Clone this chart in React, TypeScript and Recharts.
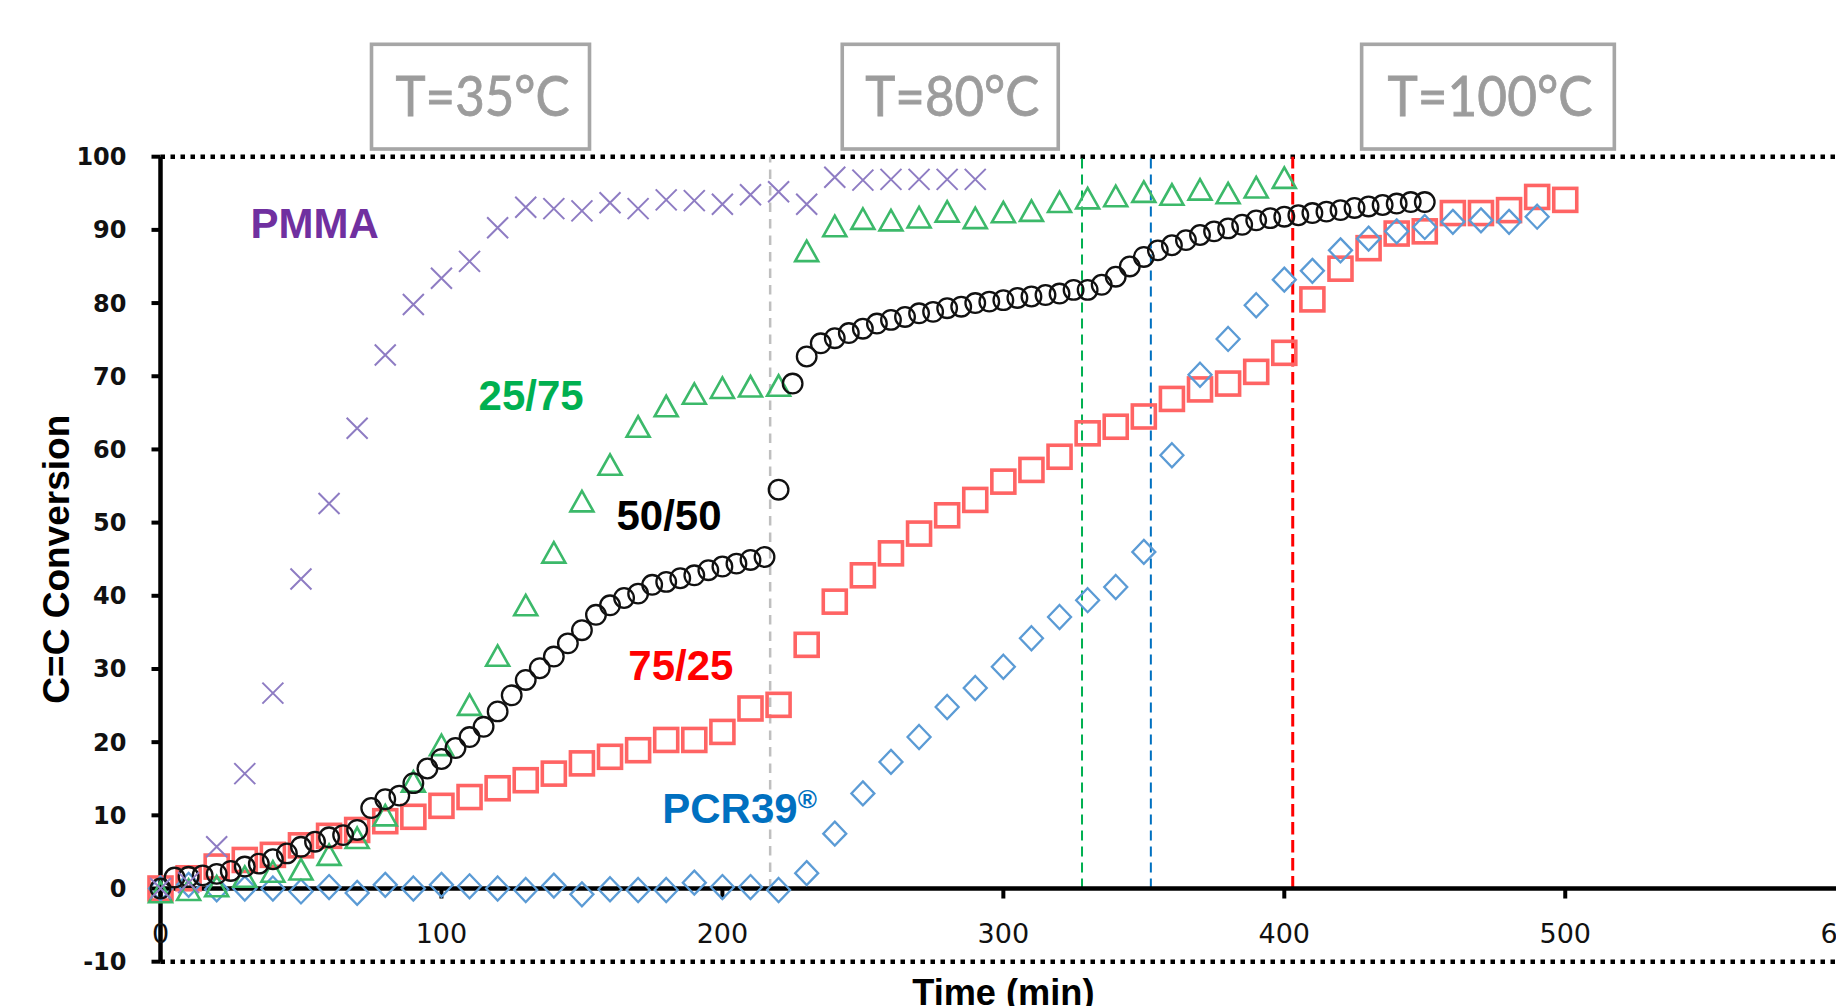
import React from 'react';
import { ScatterChart, Scatter, XAxis, YAxis, ReferenceLine, ReferenceDot } from 'recharts';

// ---------------- Data ----------------
const timePMMA = [0, 10, 20, 30, 40, 50, 60, 70, 80, 90, 100, 110, 120, 130, 140, 150, 160, 170, 180, 190, 200, 210, 220, 230, 240, 250, 260, 270, 280, 290];
const convPMMA = [0, 0.8, 5.7, 15.7, 26.7, 42.3, 52.6, 62.9, 72.9, 79.8, 83.4, 85.7, 90.3, 93.1, 92.9, 92.6, 93.7, 92.9, 94.1, 94.0, 93.5, 94.8, 95.2, 93.5, 97.2, 96.8, 96.9, 96.9, 96.9, 96.9];

const time2575 = [0, 10, 20, 30, 40, 50, 60, 70, 80, 90, 100, 110, 120, 130, 140, 150, 160, 170, 180, 190, 200, 210, 220, 230, 240, 250, 260, 270, 280, 290, 300, 310, 320, 330, 340, 350, 360, 370, 380, 390, 400];
const conv2575 = [-0.5, -0.2, 0.3, 1.6, 2.3, 2.6, 4.6, 6.9, 10.0, 14.6, 19.6, 25.1, 31.8, 38.7, 45.9, 52.9, 57.9, 63.1, 65.9, 67.6, 68.4, 68.6, 68.7, 87.1, 90.5, 91.5, 91.3, 91.7, 92.5, 91.6, 92.4, 92.6, 93.8, 94.3, 94.6, 95.2, 94.8, 95.5, 95.0, 95.8, 97.1];

const time5050 = [0, 5, 10, 15, 20, 25, 30, 35, 40, 45, 50, 55, 60, 65, 70, 75, 80, 85, 90, 95, 100, 105, 110, 115, 120, 125, 130, 135, 140, 145, 150, 155, 160, 165, 170, 175, 180, 185, 190, 195, 200, 205, 210, 215, 220, 225, 230, 235, 240, 245, 250, 255, 260, 265, 270, 275, 280, 285, 290, 295, 300, 305, 310, 315, 320, 325, 330, 335, 340, 345, 350, 355, 360, 365, 370, 375, 380, 385, 390, 395, 400, 405, 410, 415, 420, 425, 430, 435, 440, 445, 450];
const conv5050 = [0, 1.5, 1.6, 1.8, 2.0, 2.4, 3.0, 3.4, 4.0, 4.8, 5.7, 6.4, 7.0, 7.3, 8.0, 11.0, 12.2, 12.7, 14.4, 16.4, 17.7, 19.2, 20.7, 22.1, 24.2, 26.4, 28.5, 30.1, 31.7, 33.5, 35.3, 37.4, 38.7, 39.7, 40.3, 41.5, 41.9, 42.4, 42.8, 43.5, 44.0, 44.4, 44.9, 45.3, 54.5, 69.0, 72.7, 74.5, 75.2, 75.9, 76.5, 77.2, 77.7, 78.1, 78.6, 78.8, 79.3, 79.5, 80.0, 80.2, 80.4, 80.7, 80.9, 81.1, 81.3, 81.8, 81.8, 82.5, 83.6, 85.0, 86.3, 87.2, 87.9, 88.6, 89.3, 89.8, 90.2, 90.7, 91.3, 91.6, 91.8, 92.0, 92.3, 92.5, 92.7, 93.0, 93.2, 93.4, 93.6, 93.8, 93.8];

const time7525 = [0, 10, 20, 30, 40, 50, 60, 70, 80, 90, 100, 110, 120, 130, 140, 150, 160, 170, 180, 190, 200, 210, 220, 230, 240, 250, 260, 270, 280, 290, 300, 310, 320, 330, 340, 350, 360, 370, 380, 390, 400, 410, 420, 430, 440, 450, 460, 470, 480, 490, 500];
const conv7525 = [0, 1.4, 3.0, 3.9, 4.6, 5.9, 7.2, 8.0, 9.2, 9.8, 11.3, 12.5, 13.7, 14.8, 15.7, 17.1, 18.0, 18.9, 20.3, 20.3, 21.4, 24.6, 25.1, 33.3, 39.2, 42.8, 45.8, 48.5, 51.0, 53.1, 55.6, 57.2, 59.0, 62.2, 63.1, 64.5, 66.9, 68.2, 69.0, 70.6, 73.2, 80.5, 84.7, 87.5, 89.5, 89.8, 92.3, 92.3, 92.7, 94.5, 94.1];

const timePCR = [0, 10, 20, 30, 40, 50, 60, 70, 80, 90, 100, 110, 120, 130, 140, 150, 160, 170, 180, 190, 200, 210, 220, 230, 240, 250, 260, 270, 280, 290, 300, 310, 320, 330, 340, 350, 360, 370, 380, 390, 400, 410, 420, 430, 440, 450, 460, 470, 480, 490];
const convPCR = [0, 0.5, -0.1, 0, 0, -0.4, 0.2, -0.6, 0.5, 0, 0.5, 0.3, 0, -0.2, 0.4, -0.8, -0.1, -0.2, -0.2, 0.8, 0.2, 0.2, -0.2, 2.1, 7.5, 13.0, 17.3, 20.7, 24.8, 27.4, 30.3, 34.2, 37.1, 39.4, 41.2, 46.0, 59.2, 70.2, 75.1, 79.7, 83.2, 84.4, 87.2, 88.8, 89.8, 90.4, 91.1, 91.3, 91.1, 91.8];

const xTicks = [0, 100, 200, 300, 400, 500, 600];
const yTicks = [-10, 0, 10, 20, 30, 40, 50, 60, 70, 80, 90, 100];

// temperature-change times (dashed lines)
const transitionTimes = [217, 328, 352.5, 403];

// temperature boxes: label + centre time
const tempLabels = ['T=35°C', 'T=80°C', 'T=100°C'];
const tempTimes = [113.9, 281.1, 472.5];

// series labels: text, left time, baseline conversion
const seriesNames = ['PMMA', '25/75', '50/50', '75/25', 'PCR39'];
const seriesNameTimes = [32.0, 113.2, 162.3, 166.5, 178.6];
const seriesNameConv = [88.85, 65.4, 49.0, 28.5, 8.9];

// ---------------- Styles ----------------
const dashStyles = [
  { stroke: '#BFBFBF', dash: '9.5 7', width: 2.5 },
  { stroke: '#00B050', dash: '10 6', width: 2 },
  { stroke: '#0070C0', dash: '10 6', width: 2 },
  { stroke: '#FF0000', dash: '12.5 5.5', width: 3 },
];
const nameColors = ['#7030A0', '#00B050', '#000000', '#FF0000', '#0070C0'];
const boxWidths = [218, 216, 252.7];
const boxTextWidths = [174, 174, 205];

const zip = (xs: number[], ys: number[]) => xs.map((x, i) => ({ x, y: ys[i] }));

const xMark = (p: any) => {
  const { cx, cy } = p;
  const a = 10.5;
  return (
    <path
      d={`M${cx - a},${cy - a}L${cx + a},${cy + a}M${cx - a},${cy + a}L${cx + a},${cy - a}`}
      stroke="#8E7CC3"
      strokeWidth={2}
      fill="none"
    />
  );
};
const circleMark = (p: any) => (
  <circle cx={p.cx} cy={p.cy} r={9.8} fill="none" stroke="#111" strokeWidth={2.3} />
);
const triMark = (p: any) => {
  const { cx, cy } = p;
  return (
    <path
      d={`M${cx},${cy - 10.5}L${cx + 11.5},${cy + 10}L${cx - 11.5},${cy + 10}Z`}
      fill="none"
      stroke="#3CB96A"
      strokeWidth={2.6}
    />
  );
};
const squareMark = (p: any) => (
  <rect x={p.cx - 11.5} y={p.cy - 11.5} width={23} height={23} fill="none" stroke="#FF6464" strokeWidth={3.6} />
);
const diamondMark = (p: any) => {
  const { cx, cy } = p;
  return (
    <path
      d={`M${cx},${cy - 12}L${cx + 11.5},${cy}L${cx},${cy + 12}L${cx - 11.5},${cy}Z`}
      fill="none"
      stroke="#5B9BD5"
      strokeWidth={2.3}
    />
  );
};

export default function App() {
  return (
    <div style={{ width: 1836, height: 998, overflow: 'hidden' }}>
      <style>{'html,body{overflow:hidden}'}</style>
      <ScatterChart
        width={1900}
        height={1000}
        margin={{ top: 148.7, right: 61.8, bottom: 46.3, left: 0 }}
      >
        <XAxis type="number" dataKey="x" domain={[0, 600]} ticks={xTicks} hide />
        <YAxis
          type="number"
          dataKey="y"
          domain={[-10, 100]}
          ticks={yTicks}
          interval={0}
          width={152.5}
          tickSize={9}
          tickMargin={25}
          axisLine={{ stroke: '#000', strokeWidth: 4.5 }}
          tickLine={{ stroke: '#000', strokeWidth: 4 }}
          tick={{ fontFamily: 'DejaVu Sans', fontWeight: 'bold', fontSize: 24, fill: '#111' }}
        />

        {/* dotted top and bottom borders */}
        <ReferenceLine y={100} stroke="#000" strokeWidth={4.5} strokeDasharray="4.5 5.5" ifOverflow="visible" />
        <ReferenceLine y={-10} stroke="#000" strokeWidth={4.5} strokeDasharray="4.5 5.5" ifOverflow="visible" />

        {/* dashed temperature-change lines */}
        {transitionTimes.map((t, i) => (
          <ReferenceLine
            key={`tl${i}`}
            segment={[{ x: t, y: 0 }, { x: t, y: 100 }]}
            stroke={dashStyles[i].stroke}
            strokeWidth={dashStyles[i].width}
            strokeDasharray={dashStyles[i].dash}
            ifOverflow="visible"
          />
        ))}

        {/* x axis line at y = 0 */}
        <ReferenceLine y={0} stroke="#000" strokeWidth={4.5} ifOverflow="visible" />

        {/* x ticks and labels */}
        {xTicks.map((t) => (
          <ReferenceDot
            key={`xt${t}`}
            x={t}
            y={0}
            ifOverflow="visible"
            shape={(p: any) => (
              <g>
                <line x1={p.cx} y1={p.cy} x2={p.cx} y2={p.cy + 10} stroke="#000" strokeWidth={4} />
                <text x={p.cx} y={p.cy + 54.3} textAnchor="middle" fontFamily="DejaVu Sans" fontSize={27} fill="#111">
                  {t}
                </text>
              </g>
            )}
          />
        ))}

        {/* axis titles */}
        <ReferenceDot
          x={300}
          y={-10}
          ifOverflow="visible"
          shape={(p: any) => (
            <text x={p.cx} y={p.cy + 43} textAnchor="middle" fontFamily="Liberation Sans" fontWeight="bold" fontSize={36.2} fill="#000">
              Time (min)
            </text>
          )}
        />
        <ReferenceDot
          x={0}
          y={45}
          ifOverflow="visible"
          shape={(p: any) => (
            <text
              transform={`translate(${p.cx - 104.5},${p.cy}) rotate(-90)`}
              textAnchor="middle"
              dy="0.358em"
              fontFamily="Liberation Sans"
              fontWeight="bold"
              fontSize={37}
              fill="#000"
            >
              C=C Conversion
            </text>
          )}
        />

        {/* temperature boxes */}
        {tempLabels.map((lab, i) => (
          <ReferenceDot
            key={`tb${i}`}
            x={tempTimes[i]}
            y={100}
            ifOverflow="visible"
            shape={(p: any) => (
              <g>
                <rect
                  x={p.cx - boxWidths[i] / 2}
                  y={p.cy - 112.4}
                  width={boxWidths[i]}
                  height={104.7}
                  fill="#fff"
                  stroke="#A6A6A6"
                  strokeWidth={3.6}
                />
                <text
                  x={p.cx + 2}
                  y={p.cy - 40.5}
                  textAnchor="middle"
                  fontFamily="Lato"
                  fontSize={57}
                  fill="#9C9C9C"
                  stroke="#9C9C9C"
                  strokeWidth={0.8}
                  textLength={boxTextWidths[i]}
                  lengthAdjust="spacingAndGlyphs"
                >
                  {lab}
                </text>
              </g>
            )}
          />
        ))}

        {/* series */}
        <Scatter data={zip(time7525, conv7525)} shape={squareMark} isAnimationActive={false} />
        <Scatter data={zip(timePCR, convPCR)} shape={diamondMark} isAnimationActive={false} />
        <Scatter data={zip(time2575, conv2575)} shape={triMark} isAnimationActive={false} />
        <Scatter data={zip(time5050, conv5050)} shape={circleMark} isAnimationActive={false} />
        <Scatter data={zip(timePMMA, convPMMA)} shape={xMark} isAnimationActive={false} />

        {/* series name labels */}
        {seriesNames.map((name, i) => (
          <ReferenceDot
            key={`sn${i}`}
            x={seriesNameTimes[i]}
            y={seriesNameConv[i]}
            ifOverflow="visible"
            shape={(p: any) => (
              <text x={p.cx} y={p.cy} fontFamily="Liberation Sans" fontWeight="bold" fontSize={42} fill={nameColors[i]}>
                {name}
                {name === 'PCR39' ? (
                  <tspan fontSize={26} dy={-15}>®</tspan>
                ) : null}
              </text>
            )}
          />
        ))}
      </ScatterChart>
    </div>
  );
}
